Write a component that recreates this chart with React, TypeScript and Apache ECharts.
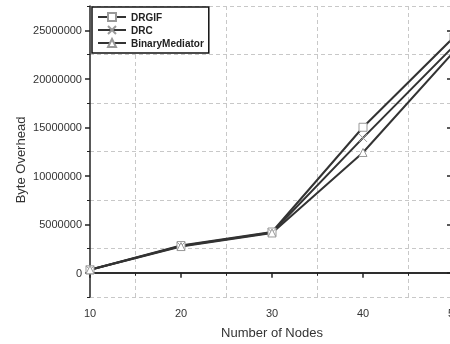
import React, { useEffect, useRef } from "react";
import * as echarts from "echarts";

const nodes = [10, 20, 30, 40, 50];
const drgif = [300000, 2800000, 4200000, 15000000, 24300000];
const drc = [300000, 2750000, 4150000, 13900000, 23400000];
const binaryMediator = [300000, 2700000, 4100000, 12400000, 22800000];
const yMajor = [0, 5000000, 10000000, 15000000, 20000000, 25000000];
const yMinor = [-2500000, 2500000, 7500000, 12500000, 17500000, 22500000, 27500000];

const FONT = "'Liberation Sans', Arial, sans-serif";

export default function App() {
  const ref = useRef<HTMLDivElement>(null);
  useEffect(() => {
    if (!ref.current) return;
    const chart = echarts.init(ref.current, undefined, { renderer: "svg" });
    const lineColor = "#333";
    const markerStyle = { color: "#fff", borderColor: "#999", borderWidth: 1 };
    const mk = (name: string, data: number[], symbol: string) => ({
      name,
      type: "line",
      data: nodes.map((x, i) => [x, data[i]]),
      symbol,
      symbolSize: 8,
      showAllSymbol: true,
      lineStyle: { color: lineColor, width: 2 },
      itemStyle: markerStyle,
      xAxisIndex: 0,
      yAxisIndex: 0,
    });
    chart.setOption({
      animation: false,
      textStyle: { fontFamily: FONT },
      grid: {
        left: 90,
        top: 6,
        width: 364,
        height: 291,
        containLabel: false,
        outerBoundsMode: "none",
      },
      legend: {
        left: 92,
        top: 7,
        orient: "vertical",
        itemWidth: 28,
        itemHeight: 10,
        itemGap: 3,
        padding: [5, 5, 5, 5],
        borderColor: "#111",
        borderWidth: 1.5,
        backgroundColor: "#fff",
        textStyle: { fontSize: 10, fontWeight: "bold", color: "#222", fontFamily: FONT },
        data: ["DRGIF", "DRC", "BinaryMediator"],
      },
      xAxis: [
        {
          type: "value",
          position: "bottom",
          min: 10,
          max: 50,
          interval: 10,
          axisLine: { show: true, lineStyle: { color: "#222", width: 1.5 } },
          axisTick: { show: true, length: 5, lineStyle: { color: "#222", width: 1.5 } },
          minorTick: { show: true, splitNumber: 2, length: 3, lineStyle: { color: "#222", width: 1 } },
          axisLabel: { fontSize: 11, color: "#333", margin: 10, fontFamily: FONT },
          splitLine: { show: false },
          minorSplitLine: { show: true, lineStyle: { color: "#c8c8c8", type: [4, 3], width: 1 } },
          name: "Number of Nodes",
          nameLocation: "middle",
          nameGap: 29,
          nameTextStyle: { fontSize: 13, color: "#333", fontFamily: FONT },
        },
        {
          type: "value",
          position: "top",
          min: 10,
          max: 50,
          interval: 10,
          axisLine: { show: true, lineStyle: { color: "#222", width: 1.5 } },
          axisTick: { show: false },
          axisLabel: { show: false },
          splitLine: { show: false },
        },
      ],
      yAxis: [
        {
          type: "value",
          position: "left",
          min: -2500000,
          max: 27500000,
          axisLine: { show: true, lineStyle: { color: "#222", width: 1.5 } },
          axisTick: { show: true, length: 5, customValues: yMajor, lineStyle: { color: "#222", width: 1.5 } },
          axisLabel: {
            fontSize: 11,
            color: "#333",
            margin: 8,
            customValues: yMajor,
            fontFamily: FONT,
            formatter: (v: number) => String(Math.round(v)),
          },
          splitLine: { show: false },
        },
        {
          type: "value",
          position: "left",
          min: -2500000,
          max: 27500000,
          axisLine: { show: false },
          axisTick: { show: true, length: 3, customValues: yMinor, lineStyle: { color: "#222", width: 1 } },
          axisLabel: { show: false },
          splitLine: { show: true, lineStyle: { color: "#c8c8c8", type: [4, 3], width: 1 } },
        },
        {
          type: "value",
          position: "right",
          min: -2500000,
          max: 27500000,
          axisLine: { show: true, lineStyle: { color: "#222", width: 1.5 } },
          axisTick: { show: true, inside: true, length: 7, customValues: yMajor, lineStyle: { color: "#222", width: 1.5 } },
          axisLabel: { show: false },
          splitLine: { show: false },
        },
      ],
      graphic: [
        {
          type: "text",
          x: 20,
          y: 160,
          rotation: Math.PI / 2,
          style: {
            text: "Byte Overhead",
            fontSize: 13,
            fontFamily: FONT,
            fill: "#333",
            align: "center",
            verticalAlign: "middle",
          },
        },
      ],
      series: [
        mk("DRGIF", drgif, "rect"),
        mk("DRC", drc, "path://M0,0L10,10M10,0L0,10"),
        mk("BinaryMediator", binaryMediator, "triangle"),
      ],
    });
    return () => chart.dispose();
  }, []);
  return (
    <div
      ref={ref}
      style={{ position: "fixed", left: 0, top: 0, width: 450, height: 344 }}
    />
  );
}
